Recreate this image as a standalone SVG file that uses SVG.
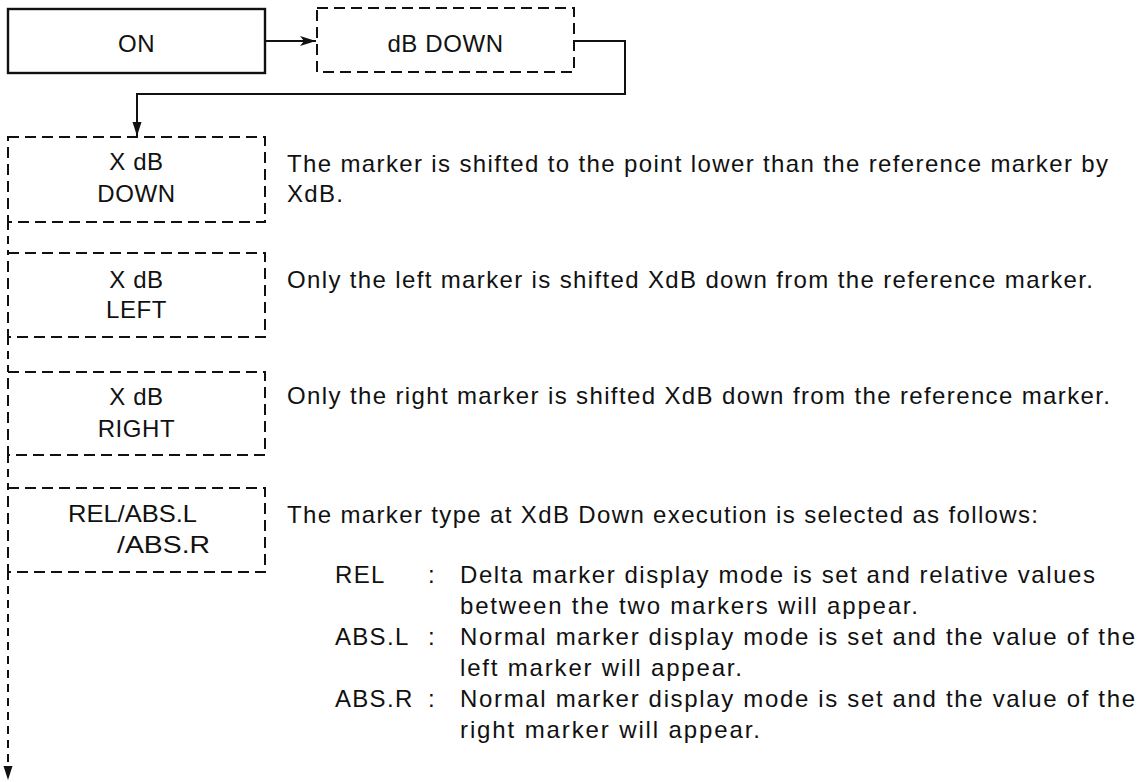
<svg xmlns="http://www.w3.org/2000/svg" width="1142" height="782" viewBox="0 0 1142 782">
<style>
text{font-family:"Liberation Sans",Arial,sans-serif;font-size:24px;fill:#111}
.lbl{text-anchor:middle;letter-spacing:0.6px}
.solid{fill:#fff;stroke:#111;stroke-width:2.4}
.dash{fill:#fff;stroke:#111;stroke-width:2;stroke-dasharray:11 6}
.line{fill:none;stroke:#111;stroke-width:2}
.dline{fill:none;stroke:#111;stroke-width:2;stroke-dasharray:8 6}
.desc{letter-spacing:1.3px}
</style>
<defs>
<marker id="ah" viewBox="0 0 14 10" refX="14" refY="5" markerWidth="14" markerHeight="10" markerUnits="userSpaceOnUse" orient="auto">
<path d="M0,0.5 L14,5 L0,9.5 Z" fill="#111"/>
</marker>
<marker id="barb" viewBox="0 0 16 12" refX="16" refY="6" markerWidth="16" markerHeight="12" markerUnits="userSpaceOnUse" orient="auto">
<path d="M0,1 L16,6 L0,11 L4,6 Z" fill="#111"/>
</marker>
</defs>
<rect width="1142" height="782" fill="#fff"/>
<g id="connectors">
<path class="line" d="M265,41 H316" marker-end="url(#barb)"/>
<path class="line" d="M574,41 H625 V94 H137 V136" marker-end="url(#ah)"/>
<path class="dline" d="M8,222 V253"/>
<path class="dline" d="M8,337 V372"/>
<path class="dline" d="M8,455 V488"/>
<path class="dline" d="M8,572 V780" marker-end="url(#ah)"/>
</g>
<g id="node-on">
<rect class="solid" x="8" y="9" width="257" height="64"/>
<text class="lbl" x="136.5" y="52">ON</text>
</g>
<g id="node-dbdown">
<rect class="dash" x="317" y="8" width="257" height="64"/>
<text class="lbl" x="445.5" y="52">dB DOWN</text>
</g>
<g id="node-xdbdown">
<rect class="dash" x="8" y="137" width="257" height="85"/>
<text class="lbl" x="136.5" y="170">X dB</text>
<text class="lbl" x="136.5" y="202">DOWN</text>
</g>
<g id="node-xdbleft">
<rect class="dash" x="8" y="253" width="257" height="84"/>
<text class="lbl" x="136.5" y="288">X dB</text>
<text class="lbl" x="136.5" y="318">LEFT</text>
</g>
<g id="node-xdbright">
<rect class="dash" x="8" y="372" width="257" height="83"/>
<text class="lbl" x="136.5" y="405">X dB</text>
<text class="lbl" x="136.5" y="437">RIGHT</text>
</g>
<g id="node-relabs">
<rect class="dash" x="8" y="488" width="257" height="84"/>
<text x="68" y="522" textLength="129" lengthAdjust="spacingAndGlyphs">REL/ABS.L</text>
<text x="117" y="553" textLength="93" lengthAdjust="spacingAndGlyphs">/ABS.R</text>
</g>
<g id="descriptions">
<text x="287" y="172" textLength="821" lengthAdjust="spacing">The marker is shifted to the point lower than the reference marker by</text>
<text class="desc" x="287" y="202">XdB.</text>
<text x="287" y="288" textLength="806" lengthAdjust="spacing">Only the left marker is shifted XdB down from the reference marker.</text>
<text x="287" y="404" textLength="823" lengthAdjust="spacing">Only the right marker is shifted XdB down from the reference marker.</text>
<text x="287" y="523" textLength="751" lengthAdjust="spacing">The marker type at XdB Down execution is selected as follows:</text>
<text class="desc" x="335" y="583">REL</text>
<text x="428" y="583">:</text>
<text x="460" y="583" textLength="635" lengthAdjust="spacing">Delta marker display mode is set and relative values</text>
<text x="460" y="614" textLength="458" lengthAdjust="spacing">between the two markers will appear.</text>
<text class="desc" x="335" y="645">ABS.L</text>
<text x="428" y="645">:</text>
<text x="460" y="645" textLength="675" lengthAdjust="spacing">Normal marker display mode is set and the value of the</text>
<text x="460" y="676" textLength="282" lengthAdjust="spacing">left marker will appear.</text>
<text class="desc" x="335" y="707">ABS.R</text>
<text x="428" y="707">:</text>
<text x="460" y="707" textLength="675" lengthAdjust="spacing">Normal marker display mode is set and the value of the</text>
<text x="460" y="738" textLength="300" lengthAdjust="spacing">right marker will appear.</text>
</g>
</svg>
